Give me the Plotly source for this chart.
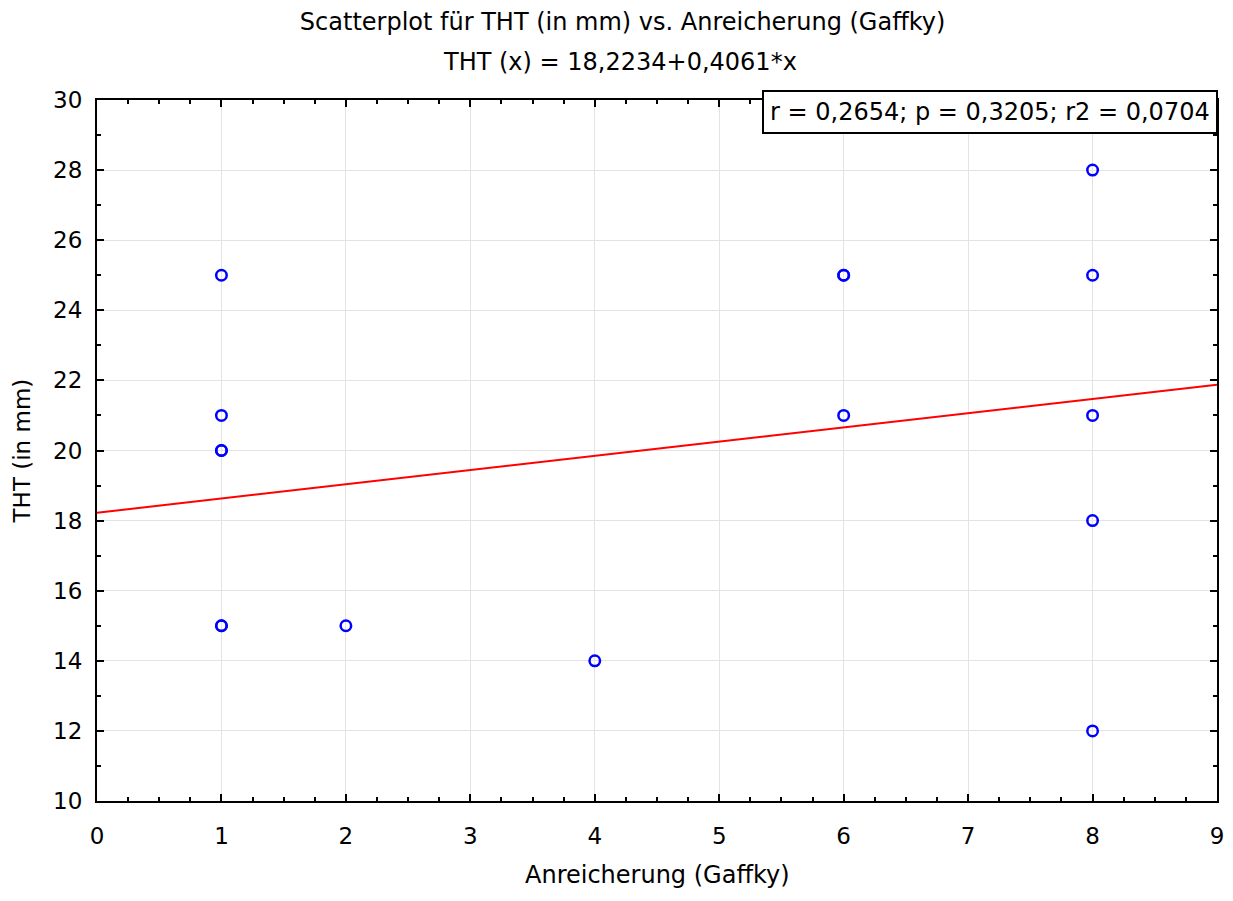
import plotly.graph_objects as go

# Daten: Anreicherung (Gaffky) vs. THT (in mm)
gaffky = [1, 1, 1, 1, 1, 1, 2, 4, 6, 6, 6, 8, 8, 8, 8, 8]
tht = [25, 21, 20, 20, 15, 15, 15, 14, 25, 25, 21, 28, 25, 21, 18, 12]

# Regressionsgerade
intercept = 18.2234
slope = 0.4061
line_x = [0, 9]
line_y = [intercept + slope * v for v in line_x]

FONT = 'DejaVu Sans, Arial, sans-serif'

fig = go.Figure()
fig.add_trace(go.Scatter(x=line_x, y=line_y, mode='lines',
                         line=dict(color='red', width=2), hoverinfo='skip'))
fig.add_trace(go.Scatter(x=gaffky, y=tht, mode='markers',
                         marker=dict(symbol='circle-open', size=10.5, color='blue',
                                     line=dict(width=2.5, color='blue'))))

axis_common = dict(showline=True, linecolor='black', linewidth=2, mirror='ticks',
                   ticks='inside', ticklen=7, tickwidth=2, tickcolor='black',
                   showgrid=True, gridcolor='#e3e3e3', gridwidth=1, zeroline=False,
                   automargin=False, tickfont=dict(size=23, color='black'))

fig.update_xaxes(range=[0, 9], dtick=1, ticklabelstandoff=13,
                 minor=dict(dtick=0.25, ticks='inside', ticklen=4, tickwidth=2, tickcolor='black', showgrid=False),
                 **axis_common)
fig.update_yaxes(range=[10, 30], dtick=2, ticklabelstandoff=8,
                 minor=dict(dtick=1, ticks='inside', ticklen=4, tickwidth=2, tickcolor='black', showgrid=False),
                 **axis_common)

# Statistik-Box
fig.add_annotation(text='r = 0,2654; p = 0,3205; r2 = 0,0704', xref='paper', yref='paper',
                   x=1.001, y=1.0143, xanchor='right', yanchor='top', showarrow=False,
                   font=dict(size=24, color='black'), bgcolor='white',
                   bordercolor='black', borderwidth=2, borderpad=6)

# Zweite Titelzeile
fig.add_annotation(text='THT (x) = 18,2234+0,4061*x', xref='paper', yref='paper',
                   x=0.467, y=1.054, xanchor='center', yanchor='middle', showarrow=False,
                   font=dict(size=24, color='black'))

# Achsentitel
fig.add_annotation(text='Anreicherung (Gaffky)', xref='paper', yref='paper',
                   x=0.5, y=-0.106, xanchor='center', yanchor='middle', showarrow=False,
                   font=dict(size=24, color='black'))
fig.add_annotation(text='THT (in mm)', xref='paper', yref='paper', textangle=-90,
                   x=-0.067, y=0.5, xanchor='center', yanchor='middle', showarrow=False,
                   font=dict(size=23, color='black'))

fig.update_layout(
    width=1217, height=885,
    title=dict(text='Scatterplot für THT (in mm) vs. Anreicherung (Gaffky)',
               x=0.505, xanchor='center', yref='container', y=1 - 14 / 885, yanchor='middle',
               font=dict(size=24, color='black')),
    font=dict(family=FONT, color='black'),
    plot_bgcolor='white', paper_bgcolor='white',
    margin=dict(l=89, r=8, t=92, b=92),
    showlegend=False,
)

fig.write_html("out.html")
